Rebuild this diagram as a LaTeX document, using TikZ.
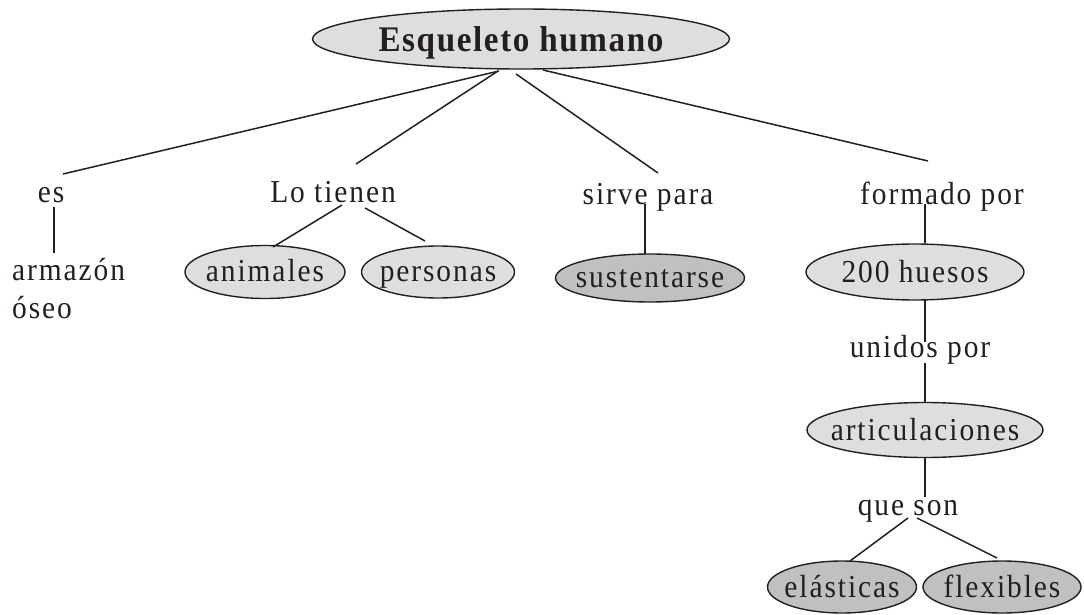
\documentclass[tikz,border=0pt]{standalone}
\usepackage{fontspec}
\usetikzlibrary{shapes.geometric,calc}
\newfontfamily\lblfont[LetterSpace=6,FakeStretch=0.92]{Liberation Serif}
\newfontfamily\ttlfont[LetterSpace=4.5,FakeStretch=0.92]{Liberation Serif}
\definecolor{gA}{RGB}{222,222,222}
\definecolor{gB}{RGB}{192,192,192}
\definecolor{ink}{RGB}{35,31,32}
\tikzset{
  lbl/.style={font=\lblfont\fontsize{32}{36}\selectfont, inner sep=0pt, anchor=base, text=ink},
  bub/.style={ellipse, draw=ink, line width=1.4pt, fill=gA, inner sep=0pt},
  bubB/.style={bub, fill=gB},
  con/.style={draw=ink, line width=1.5pt}
}
\begin{document}
\begin{tikzpicture}[x=1pt,y=-1pt]
\useasboundingbox (0,0) rectangle (1084,615);
% top
\node[bub, minimum width=417, minimum height=60] (top) at (521,39) {};
\node[lbl, font=\ttlfont\bfseries\fontsize{36}{40}\selectfont] (top-t) at ($(top.center)+(0,13)$) {Esqueleto humano};
% level 1 labels
\node[lbl] (es) at (51,202) {es};
\node[lbl] (lo) at (333,202) {Lo tienen};
\node[lbl] (sirve) at (648,204) {sirve para};
\node[lbl] (form) at (942,204) {formado por};
% level 2
\node[lbl, anchor=base west] (arm) at (12,280) {armazón};
\node[lbl, anchor=base west] (oseo) at (12,318) {óseo};
\node[bub, minimum width=160, minimum height=53] (ani) at (265,272) {};
\node[lbl] (ani-t) at ($(ani.center)+(0,9)$) {animales};
\node[bub, minimum width=153, minimum height=52] (per) at (438,272) {};
\node[lbl] (per-t) at ($(per.center)+(0,9)$) {personas};
\node[bubB, minimum width=189, minimum height=48] (sus) at (650,278) {};
\node[lbl] (sus-t) at ($(sus.center)+(0,9)$) {sustentarse};
\node[bub, minimum width=218, minimum height=56] (hue) at (915,272) {};
\node[lbl] (hue-t) at ($(hue.center)+(0,10)$) {200 huesos};
\node[lbl] (uni) at (920,357) {unidos por};
\node[bub, minimum width=236, minimum height=55] (art) at (925,430) {};
\node[lbl] (art-t) at ($(art.center)+(0,10)$) {articulaciones};
\node[lbl] (que) at (908,515) {que son};
\node[bubB, minimum width=149, minimum height=52] (ela) at (842,587) {};
\node[lbl] (ela-t) at ($(ela.center)+(0,10)$) {elásticas};
\node[bubB, minimum width=158, minimum height=52] (fle) at (1002,587) {};
\node[lbl] (fle-t) at ($(fle.center)+(0,10)$) {flexibles};
% connectors
\draw[con] ($(top.center)+(-22,32)$) -- ($(es.base)+(12,-28)$);
\draw[con] ($(top.center)+(-23,32)$) -- ($(lo.base)+(23,-38)$);
\draw[con] ($(top.center)+(-5,35)$) -- ($(sirve.base)+(10,-31)$);
\draw[con] ($(top.center)+(22,31)$) -- ($(form.base)+(-14,-43)$);
\draw[con] ($(es.base)+(3,5)$) -- ($(arm.base west)+(42,-27)$);
\draw[con] ($(lo.base)+(9,3)$) -- ($(ani.center)+(8,-25)$);
\draw[con] ($(lo.base)+(32,6)$) -- ($(per.center)+(-13,-31)$);
\draw[con] ($(sirve.base)+(-3,0)$) -- ($(sus.center)+(-5,-24)$);
\draw[con] ($(form.base)+(-17,0)$) -- ($(hue.center)+(10,-29)$);
\draw[con] ($(hue.center)+(10,28)$) -- ($(uni.base)+(5,-15)$);
\draw[con] ($(uni.base)+(5,6)$) -- ($(art.center)+(0,-28)$);
\draw[con] ($(art.center)+(0,28)$) -- ($(que.base)+(17,-18)$);
\draw[con] ($(que.base)+(0,3)$) -- ($(ela.center)+(8,-26)$);
\draw[con] ($(que.base)+(9,3)$) -- ($(fle.center)+(-5,-29)$);
\end{tikzpicture}
\end{document}
